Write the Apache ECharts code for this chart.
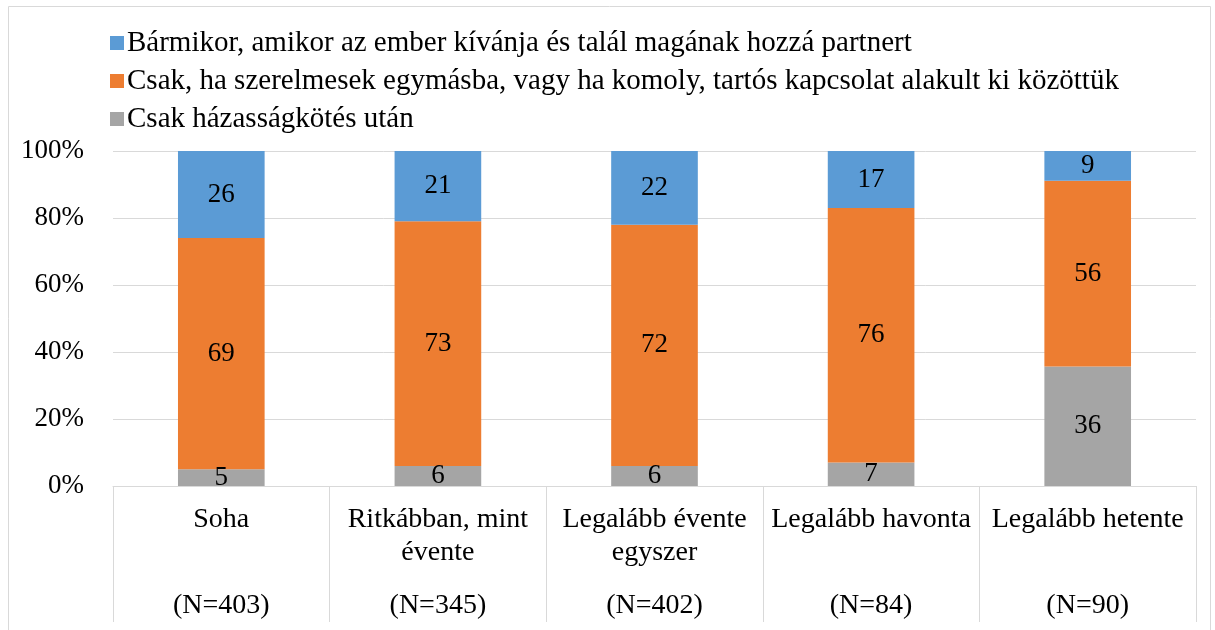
<!DOCTYPE html>
<html>
<head>
<meta charset="utf-8">
<script src="https://cdn.jsdelivr.net/npm/echarts@6/dist/echarts.min.js"></script>
<style>
  html, body { margin: 0; padding: 0; background: #fff; }
  #chart { width: 1215px; height: 630px; }
</style>
</head>
<body>
<div id="chart"></div>
<script>
// categories and sample sizes
const categories = ['Soha', 'Ritkábban, mint\névente', 'Legalább évente\negyszer', 'Legalább havonta', 'Legalább hetente']
const sampleSizes = ['(N=403)', '(N=345)', '(N=402)', '(N=84)', '(N=90)']
// series values (as printed on the bars)
const anytime = [26, 21, 22, 17, 9]
const onlyInLove = [69, 73, 72, 76, 56]
const afterMarriage = [5, 6, 6, 7, 36]
const seriesNames = [
  'Bármikor, amikor az ember kívánja és talál magának hozzá partnert',
  'Csak, ha szerelmesek egymásba, vagy ha komoly, tartós kapcsolat alakult ki közöttük',
  'Csak házasságkötés után'
]
const yTicks = [0, 20, 40, 60, 80, 100]

const FONT = 'Liberation Serif'
const GRID_COLOR = '#d9d9d9'

// 100% stacked: normalise each column, keep printed value for the label
const totals = categories.map((c, i) => anytime[i] + onlyInLove[i] + afterMarriage[i])
const toShare = arr => arr.map((v, i) => ({ value: v / totals[i] * 100, raw: v }))

const makeSeries = (name, data, color) => ({
  name: name,
  type: 'bar',
  stack: 'total',
  barWidth: '40%',
  itemStyle: { color: color },
  label: {
    show: true,
    position: 'inside',
    color: '#000',
    fontFamily: FONT,
    fontSize: 27,
    formatter: p => p.data.raw
  },
  data: toShare(data)
})

const myChart = echarts.init(document.getElementById('chart'))
const option = {
  animation: false,
  textStyle: { fontFamily: FONT },
  legend: {
    orient: 'vertical',
    left: 105,
    top: 23,
    itemWidth: 14,
    itemHeight: 14,
    itemGap: 8,
    icon: 'rect',
    data: seriesNames,
    textStyle: { fontFamily: FONT, fontSize: 29, color: '#000', lineHeight: 30, padding: [0, 0, 0, -2] }
  },
  grid: { left: 113, right: 19, top: 151, bottom: 144 },
  xAxis: [
    {
      type: 'category',
      data: categories,
      axisLine: { lineStyle: { color: GRID_COLOR, width: 1 } },
      axisTick: { show: true, length: 136, lineStyle: { color: GRID_COLOR, width: 1 } },
      axisLabel: {
        interval: 0,
        margin: 17,
        color: '#000',
        fontFamily: FONT,
        fontSize: 28,
        lineHeight: 33
      }
    },
    {
      type: 'category',
      position: 'bottom',
      data: sampleSizes,
      axisLine: { show: false },
      axisTick: { show: false },
      axisLabel: {
        interval: 0,
        margin: 106,
        color: '#000',
        fontFamily: FONT,
        fontSize: 28,
        lineHeight: 28
      }
    }
  ],
  yAxis: {
    type: 'value',
    min: yTicks[0],
    max: yTicks[yTicks.length - 1],
    interval: yTicks[1] - yTicks[0],
    axisLine: { show: false },
    axisTick: { show: false },
    splitLine: { lineStyle: { color: GRID_COLOR, width: 1 } },
    axisLabel: {
      margin: 29,
      color: '#000',
      fontFamily: FONT,
      fontSize: 27,
      formatter: '{value}%'
    }
  },
  series: [
    makeSeries(seriesNames[0], anytime, '#5B9BD5'),
    makeSeries(seriesNames[1], onlyInLove, '#ED7D31'),
    makeSeries(seriesNames[2], afterMarriage, '#A5A5A5')
  ],
  graphic: [
    {
      type: 'rect',
      shape: { x: 8.5, y: 6.5, width: 1202, height: 640 },
      style: { fill: null, stroke: GRID_COLOR, lineWidth: 1 },
      silent: true,
      z: -1
    }
  ]
}
// stack order: gray at bottom, then orange, blue on top
option.series.reverse()
myChart.setOption(option, true)
</script>
</body>
</html>
